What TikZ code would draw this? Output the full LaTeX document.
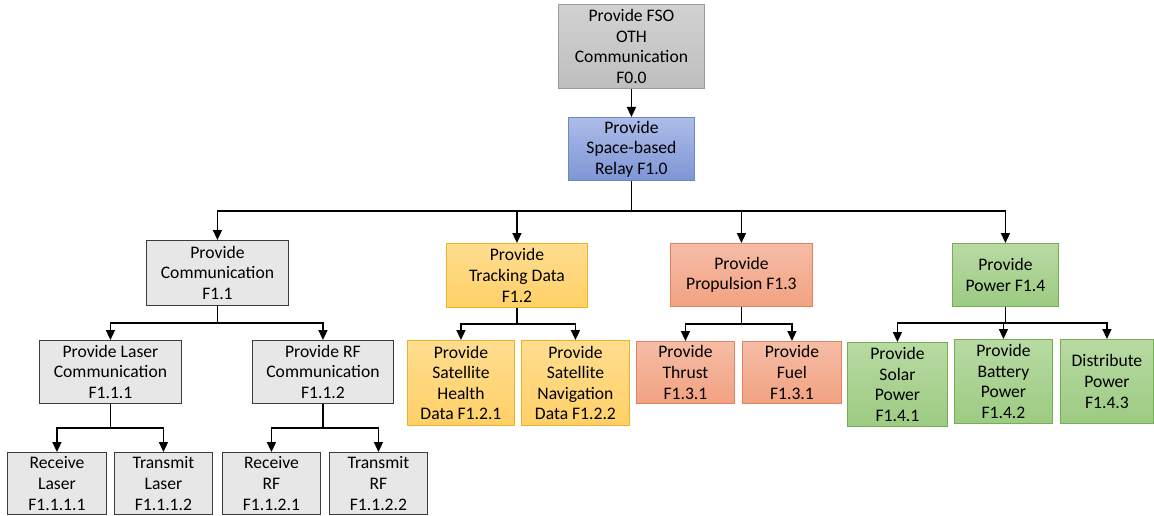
\documentclass[tikz,border=0pt]{standalone}
\usepackage{fontspec}
\setmainfont{Carlito}
\usetikzlibrary{arrows.meta}

\definecolor{rootTop}{HTML}{D2D2D2}
\definecolor{rootBot}{HTML}{BEBEBE}
\definecolor{rootLine}{HTML}{9A9A9A}
\definecolor{blueTop}{HTML}{ADBCE8}
\definecolor{blueBot}{HTML}{7E95D5}
\definecolor{blueLine}{HTML}{6A88CC}
\definecolor{greyFill}{HTML}{E7E7E7}
\definecolor{greyLine}{HTML}{3C3C3C}
\definecolor{orangeTop}{HTML}{FFDD90}
\definecolor{orangeBot}{HTML}{FFD066}
\definecolor{orangeLine}{HTML}{EDB326}
\definecolor{salmonTop}{HTML}{F6BCA6}
\definecolor{salmonBot}{HTML}{F2A281}
\definecolor{salmonLine}{HTML}{E5825E}
\definecolor{greenTop}{HTML}{B8DAA3}
\definecolor{greenBot}{HTML}{9CCB82}
\definecolor{greenLine}{HTML}{76AE52}

\tikzset{
  x=1pt, y=-1pt,
  fnbox/.style={line width=0.9pt, align=center, inner sep=0pt, anchor=north west,
    font=\fontsize{17.6}{20.6}\selectfont},
  rootbox/.style={fnbox, draw=rootLine, top color=rootTop, bottom color=rootBot},
  bluebox/.style={fnbox, draw=blueLine, top color=blueTop, bottom color=blueBot},
  greybox/.style={fnbox, draw=greyLine, fill=greyFill},
  orangebox/.style={fnbox, draw=orangeLine, top color=orangeTop, bottom color=orangeBot},
  salmonbox/.style={fnbox, draw=salmonLine, top color=salmonTop, bottom color=salmonBot},
  greenbox/.style={fnbox, draw=greenLine, top color=greenTop, bottom color=greenBot},
  link/.style={draw=black, line width=1.6pt, -{Triangle[width=9pt,length=10pt]}}
}

\begin{document}
\begin{tikzpicture}
\useasboundingbox (0,0) rectangle (1154,516);

% top levels
\node[rootbox, minimum width=146pt, minimum height=84pt] (f00) at (558,4)
  {Provide FSO\\OTH\\Communication\\F0.0};
\node[bluebox, minimum width=126pt, minimum height=63pt] (f10) at (568,117)
  {Provide\\Space-based\\Relay F1.0};

% second level
\node[greybox, minimum width=142pt, minimum height=65pt] (f11) at (146,240)
  {Provide\\Communication\\F1.1};
\node[orangebox, minimum width=141pt, minimum height=64pt] (f12) at (446,243)
  {Provide\\Tracking Data\\F1.2};
\node[salmonbox, minimum width=142pt, minimum height=63pt] (f13) at (670,243)
  {Provide\\Propulsion F1.3};
\node[greenbox, minimum width=106pt, minimum height=63pt] (f14) at (952,243)
  {Provide\\Power F1.4};

% communication branch
\node[greybox, minimum width=142pt, minimum height=63pt] (f111) at (39,340)
  {Provide Laser\\Communication\\F1.1.1};
\node[greybox, minimum width=141pt, minimum height=63pt] (f112) at (252,340)
  {Provide RF\\Communication\\F1.1.2};
\node[greybox, minimum width=99pt, minimum height=62pt] (f1111) at (7,452)
  {Receive\\Laser\\F1.1.1.1};
\node[greybox, minimum width=98pt, minimum height=62pt] (f1112) at (114,452)
  {Transmit\\Laser\\F1.1.1.2};
\node[greybox, minimum width=98pt, minimum height=62pt] (f1121) at (222,452)
  {Receive\\RF\\F1.1.2.1};
\node[greybox, minimum width=98pt, minimum height=62pt] (f1122) at (329,452)
  {Transmit\\RF\\F1.1.2.2};

% tracking branch
\node[orangebox, minimum width=107pt, minimum height=85pt] (f121) at (407,340)
  {Provide\\Satellite\\Health\\Data F1.2.1};
\node[orangebox, minimum width=108pt, minimum height=85pt] (f122) at (521,340)
  {Provide\\Satellite\\Navigation\\Data F1.2.2};

% propulsion branch
\node[salmonbox, minimum width=98pt, minimum height=62pt] (f131) at (636,341)
  {Provide\\Thrust\\F1.3.1};
\node[salmonbox, minimum width=99pt, minimum height=62pt] (f132) at (742,341)
  {Provide\\Fuel\\F1.3.1};

% power branch
\node[greenbox, minimum width=100pt, minimum height=84pt] (f141) at (847,342)
  {Provide\\Solar\\Power\\F1.4.1};
\node[greenbox, minimum width=98pt, minimum height=84pt] (f142) at (954,339)
  {Provide\\Battery\\Power\\F1.4.2};
\node[greenbox, minimum width=93pt, minimum height=84pt] (f143) at (1060,339)
  {Distribute\\Power\\F1.4.3};

% connectors
\draw[link] (f00.south) -- (f10.north);
\foreach \c in {f11,f12,f13,f14}
  \draw[link] (f10.south) -- ++(0,30) -| (\c.north);
\foreach \c in {f111,f112}
  \draw[link] (f11.south) -- ++(0,17) -| (\c.north);
\foreach \c in {f1111,f1112}
  \draw[link] (f111.south) -- ++(0,24) -| (\c.north);
\foreach \c in {f1121,f1122}
  \draw[link] (f112.south) -- ++(0,24) -| (\c.north);
\foreach \c in {f121,f122}
  \draw[link] (f12.south) -- ++(0,16) -| (\c.north);
\foreach \c in {f131,f132}
  \draw[link] (f13.south) -- ++(0,17) -| (\c.north);
\foreach \c in {f141,f142,f143}
  \draw[link] (f14.south) -- ++(0,16) -| (\c.north);
\end{tikzpicture}
\end{document}
